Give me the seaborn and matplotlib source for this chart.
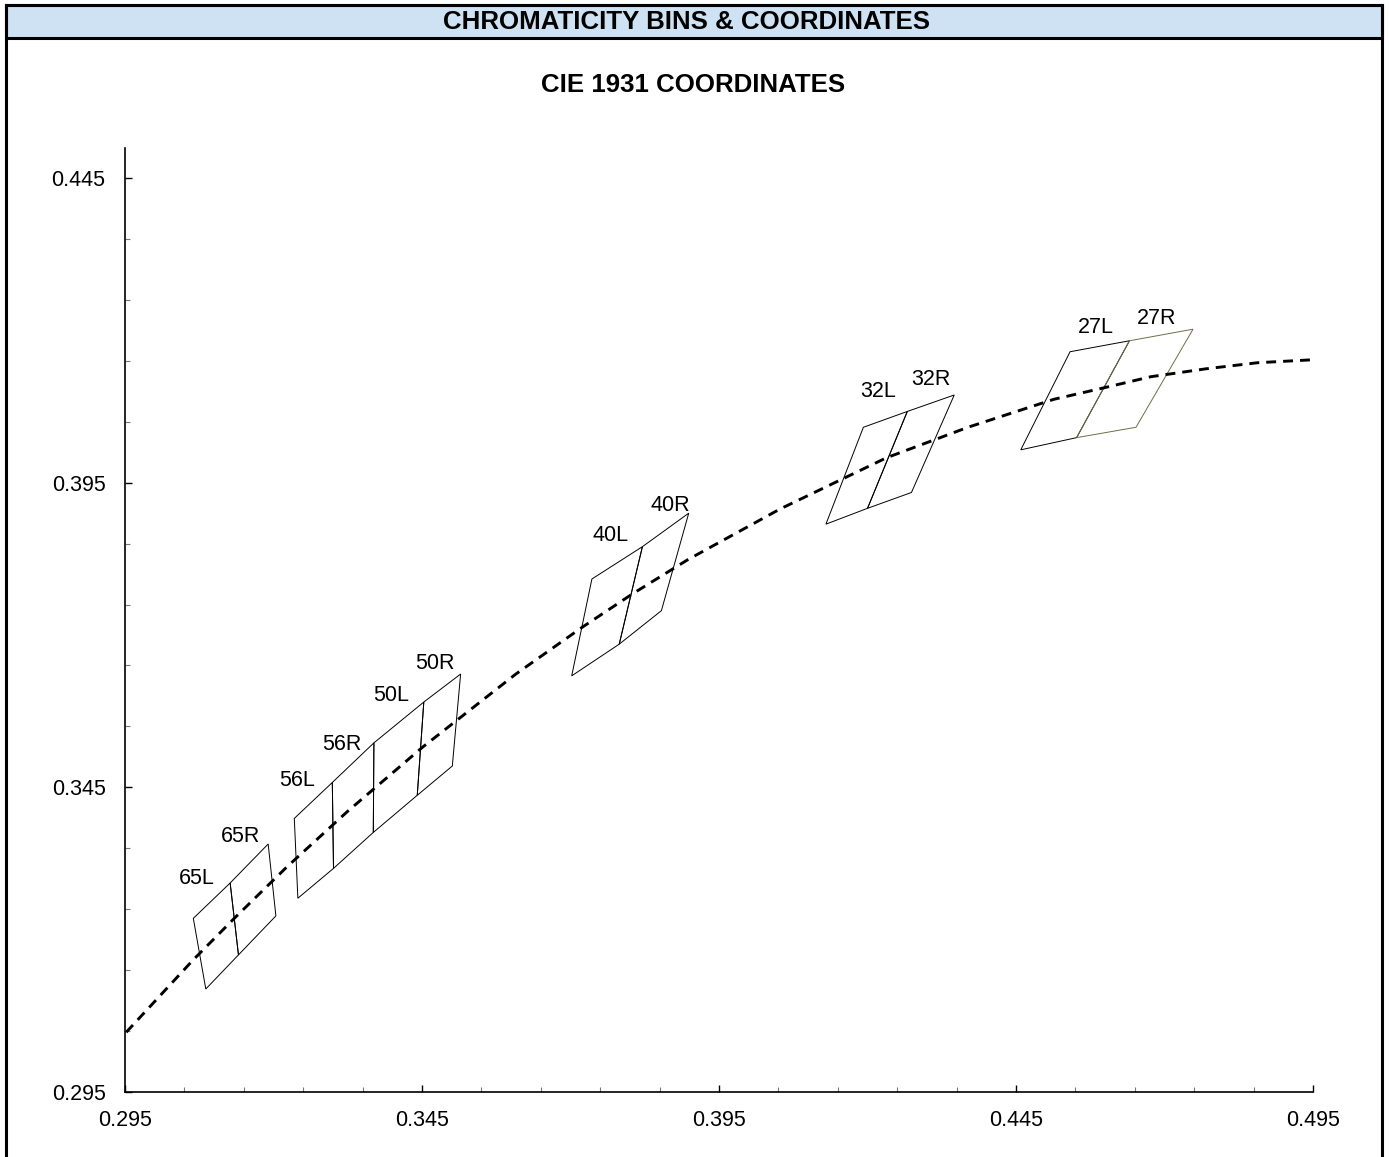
import numpy as np
import pandas as pd

import matplotlib
matplotlib.use("Agg")
import matplotlib.pyplot as plt
import seaborn as sns
from matplotlib.patches import Rectangle
from matplotlib.ticker import FixedLocator, FormatStrFormatter

sns.set_style("ticks")
plt.rcParams["font.family"] = ["Liberation Sans", "DejaVu Sans"]
plt.rcParams["text.color"] = "black"
plt.rcParams["xtick.color"] = "black"
plt.rcParams["ytick.color"] = "black"

# --- Black body locus ---
locus_x = [0.2952, 0.3064, 0.3135, 0.3221, 0.3324, 0.3451, 0.3608, 0.3720,
           0.3805, 0.3898, 0.4053, 0.4232, 0.4369, 0.4514, 0.4599, 0.4677,
           0.4770, 0.4857, 0.4953]
locus_y = [0.3048, 0.3166, 0.3236, 0.3318, 0.3410, 0.3516, 0.3636, 0.3713,
           0.3768, 0.3824, 0.3907, 0.3991, 0.4041, 0.4087, 0.4106, 0.4124,
           0.4137, 0.4147, 0.4152]

# --- Bin corners: each bin split into L / R halves by a middle line ---
bin_names = ["65", "56", "50", "40", "32", "27"]
# top-left, top-middle, top-right
tl_x = [0.3065, 0.3235, 0.3369, 0.3736, 0.4193, 0.4541]
tl_y = [0.3235, 0.3399, 0.3523, 0.3792, 0.4041, 0.4165]
tm_x = [0.3127, 0.3299, 0.3453, 0.3821, 0.4267, 0.4641]
tm_y = [0.3293, 0.3458, 0.3590, 0.3845, 0.4067, 0.4183]
tr_x = [0.3191, 0.3369, 0.3515, 0.3899, 0.4346, 0.4748]
tr_y = [0.3357, 0.3523, 0.3636, 0.3900, 0.4094, 0.4202]
# bottom-right, bottom-middle, bottom-left
br_x = [0.3204, 0.3368, 0.3501, 0.3853, 0.4274, 0.4652]
br_y = [0.3239, 0.3376, 0.3485, 0.3740, 0.3934, 0.4041]
bm_x = [0.3141, 0.3301, 0.3442, 0.3782, 0.4200, 0.4552]
bm_y = [0.3175, 0.3317, 0.3437, 0.3685, 0.3908, 0.4024]
bl_x = [0.3086, 0.3241, 0.3368, 0.3702, 0.4130, 0.4458]
bl_y = [0.3119, 0.3268, 0.3376, 0.3633, 0.3882, 0.4004]
bin_edge_colors = ["black", "black", "black", "black", "black", "#6e6e4a"]

# --- Bin label anchors (data coordinates) ---
label_l_x = [0.3071, 0.3240, 0.3398, 0.3768, 0.4218, 0.4585]
label_l_y = [0.3301, 0.3462, 0.3600, 0.3863, 0.4099, 0.4205]
label_r_x = [0.3144, 0.3315, 0.3472, 0.3868, 0.4307, 0.4687]
label_r_y = [0.3369, 0.3520, 0.3654, 0.3912, 0.4119, 0.4220]

x_ticks = [0.295, 0.345, 0.395, 0.445, 0.495]
y_ticks = [0.295, 0.345, 0.395, 0.445]

fig = plt.figure(figsize=(13.89, 11.57), dpi=100)
ax = fig.add_axes([0.0900, 0.0562, 0.8553, 0.8162])

locus_df = pd.DataFrame({"x": locus_x, "y": locus_y})
sns.lineplot(data=locus_df, x="x", y="y", sort=False, ax=ax,
             color="black", linewidth=2.1, linestyle=(0, (3.4, 2.4)), zorder=3)

for i, name in enumerate(bin_names):
    ec = bin_edge_colors[i]
    left_x = [tl_x[i], tm_x[i], bm_x[i], bl_x[i]]
    left_y = [tl_y[i], tm_y[i], bm_y[i], bl_y[i]]
    right_x = [tm_x[i], tr_x[i], br_x[i], bm_x[i]]
    right_y = [tm_y[i], tr_y[i], br_y[i], bm_y[i]]
    ax.fill(left_x, left_y, facecolor="none", edgecolor="black", linewidth=0.7, zorder=2)
    ax.fill(right_x, right_y, facecolor="none", edgecolor=ec, linewidth=0.7, zorder=2)
    ax.text(label_l_x[i], label_l_y[i], name + "L", ha="center", va="center", fontsize=15.5)
    ax.text(label_r_x[i], label_r_y[i], name + "R", ha="center", va="center", fontsize=15.5)

ax.set_xlim(0.295, 0.495)
ax.set_ylim(0.295, 0.45)
ax.set_xlabel("")
ax.set_ylabel("")

ax.xaxis.set_major_locator(FixedLocator(x_ticks))
ax.yaxis.set_major_locator(FixedLocator(y_ticks))
ax.xaxis.set_minor_locator(FixedLocator(np.round(np.arange(0.305, 0.495, 0.01), 3)))
ax.yaxis.set_minor_locator(FixedLocator(np.round(np.arange(0.305, 0.45, 0.01), 3)))
ax.xaxis.set_major_formatter(FormatStrFormatter("%.3f"))
ax.yaxis.set_major_formatter(FormatStrFormatter("%.3f"))

ax.tick_params(which="major", direction="in", length=5, width=1.0, color="black",
               labelsize=15.5, labelcolor="black")
ax.tick_params(axis="x", which="major", pad=13)
ax.tick_params(axis="y", which="major", pad=14)
ax.tick_params(which="minor", direction="in", length=3.5, width=0.8, color="#777777")

sns.despine(ax=ax)
for side in ["left", "bottom"]:
    ax.spines[side].set_linewidth(1.2)
    ax.spines[side].set_color("black")

# --- Header band and outer frame ---
fx0 = 6 / 1389
fx1 = 1382 / 1389
ftop = 1 - 5 / 1157
fhead = 1 - 38 / 1157
fig.patches.append(Rectangle((fx0, fhead), fx1 - fx0, ftop - fhead, transform=fig.transFigure,
                             facecolor="#cfe2f3", edgecolor="black", linewidth=2.2, zorder=0))
fig.patches.append(Rectangle((fx0, -0.02), fx1 - fx0, ftop + 0.02, transform=fig.transFigure,
                             facecolor="none", edgecolor="black", linewidth=2.2, zorder=1))

fig.text(0.494, 1 - 22 / 1157, "CHROMATICITY BINS & COORDINATES", ha="center", va="center",
         fontsize=18.6, fontweight="bold", color="black")
fig.text(0.4993, 1 - 85 / 1157, "CIE 1931 COORDINATES", ha="center", va="center",
         fontsize=18.6, fontweight="bold", color="black")

fig.savefig("out.png", dpi=100, facecolor="white")
